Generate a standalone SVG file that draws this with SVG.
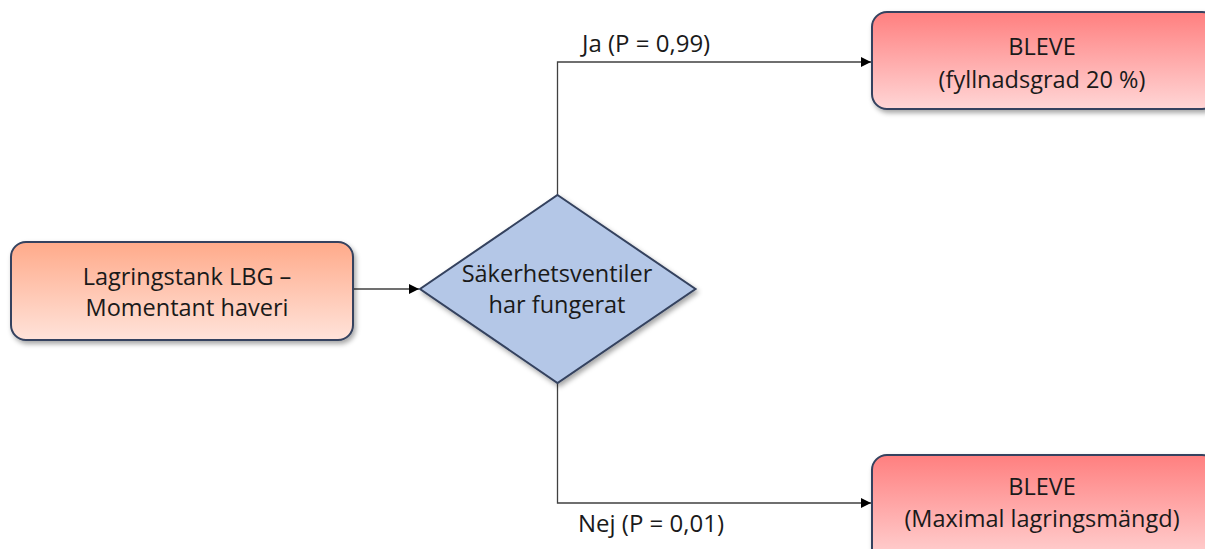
<svg xmlns="http://www.w3.org/2000/svg" width="1205" height="549" viewBox="0 0 1205 549">
<defs>
<linearGradient id="gOrange" x1="0" y1="0" x2="0" y2="1">
<stop offset="0" stop-color="#FFAA8A"/>
<stop offset="1" stop-color="#FFE3DA"/>
</linearGradient>
<linearGradient id="gRed" x1="0" y1="0" x2="0" y2="1">
<stop offset="0" stop-color="#FF7F7F"/>
<stop offset="1" stop-color="#FFD6D6"/>
</linearGradient>
<filter id="sh" x="-10%" y="-10%" width="130%" height="140%">
<feDropShadow dx="2" dy="3" stdDeviation="2.5" flood-color="#000" flood-opacity="0.35"/>
</filter>
<marker id="arr" viewBox="0 0 10 10" refX="10" refY="5" markerWidth="10" markerHeight="10" markerUnits="userSpaceOnUse" orient="auto">
<path d="M0,0 L10,5 L0,10 z" fill="#000"/>
</marker>
</defs>
<style>
.box{stroke:#34425E;stroke-width:2;filter:url(#sh)}
.t{font-family:"Open Sans","Liberation Sans",sans-serif;font-size:23.5px;fill:#1a1a1a;text-anchor:middle}
.l{font-family:"Open Sans","Liberation Sans",sans-serif;font-size:24px;fill:#1a1a1a}
.c{fill:none;stroke:#404040;stroke-width:1.3}
</style>
<rect width="1205" height="549" fill="#fff"/>
<g id="connectors">
<path class="c" d="M353,289 H419" marker-end="url(#arr)"/>
<path class="c" d="M557.5,195 V62 H871" marker-end="url(#arr)"/>
<path class="c" d="M557.5,383 V503 H871" marker-end="url(#arr)"/>
<text class="l" x="582" y="52">Ja (P = 0,99)</text>
<text class="l" x="578" y="532">Nej (P = 0,01)</text>
</g>
<g id="start">
<rect class="box" x="11" y="242" width="342" height="98" rx="15" fill="url(#gOrange)"/>
<text class="t" x="187" y="285">Lagringstank LBG –</text>
<text class="t" x="187" y="316">Momentant haveri</text>
</g>
<g id="decision">
<polygon class="box" points="557.5,195 695.5,289 557.5,383 420,289" fill="#B4C7E7" stroke-width="1.5"/>
<text class="t" x="557" y="282">Säkerhetsventiler</text>
<text class="t" x="557" y="313">har fungerat</text>
</g>
<g id="yes">
<rect class="box" x="872" y="12" width="345" height="97" rx="15" fill="url(#gRed)"/>
<text class="t" x="1042" y="55">BLEVE</text>
<text class="t" x="1042" y="88">(fyllnadsgrad 20 %)</text>
</g>
<g id="no">
<rect class="box" x="872" y="455" width="345" height="110" rx="15" fill="url(#gRed)"/>
<text class="t" x="1042" y="495">BLEVE</text>
<text class="t" x="1042" y="527">(Maximal lagringsmängd)</text>
</g>
</svg>
